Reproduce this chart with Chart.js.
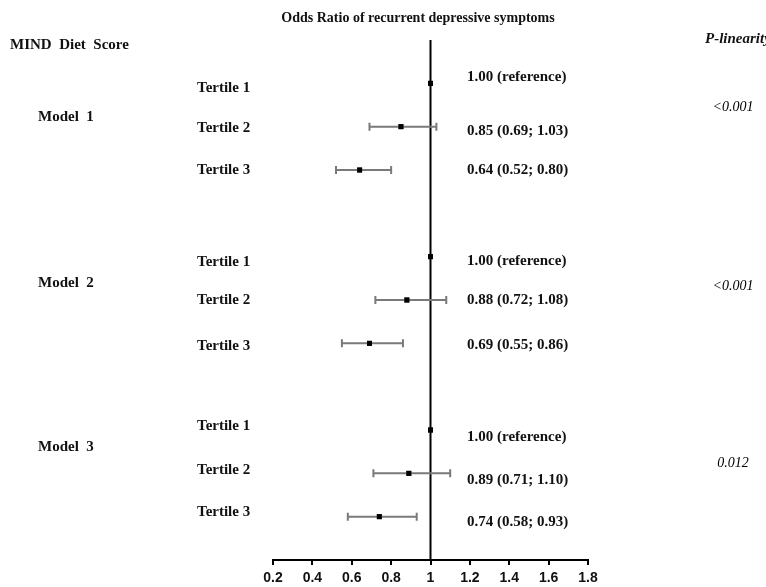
<!DOCTYPE html>
<html>
<head>
<meta charset="utf-8">
<script src="https://cdn.jsdelivr.net/npm/chart.js@4"></script>
<style>
  body { margin: 0; background: #fff; }
  #wrap { width: 766px; height: 587px; }
</style>
</head>
<body>
<div id="wrap"><canvas id="forest" width="766" height="587"></canvas></div>
<script>
// data
const models = ['Model  1', 'Model  2', 'Model  3'];
const pLinearity = ['<0.001', '<0.001', '0.012'];
const tertiles = ['Tertile 1', 'Tertile 2', 'Tertile 3'];
const oddsRatio = [1.00, 0.85, 0.64, 1.00, 0.88, 0.69, 1.00, 0.89, 0.74];
const lowerCI = [1.00, 0.69, 0.52, 1.00, 0.72, 0.55, 1.00, 0.71, 0.58];
const upperCI = [1.00, 1.03, 0.80, 1.00, 1.08, 0.86, 1.00, 1.10, 0.93];
const rowPos = [0, 1, 2, 4, 5, 6, 8, 9, 10];
const valueText = [
    '1.00 (reference)', '0.85 (0.69; 1.03)', '0.64 (0.52; 0.80)',
    '1.00 (reference)', '0.88 (0.72; 1.08)', '0.69 (0.55; 0.86)',
    '1.00 (reference)', '0.89 (0.71; 1.10)', '0.74 (0.58; 0.93)'
];
const xTicks = [0.2, 0.4, 0.6, 0.8, 1, 1.2, 1.4, 1.6, 1.8];

// small nudges so labels sit like in the original (pixels)
const tertileShift = [5, 1, 0, 5, 0, 3, -4, -3, -5];
const valueShift = [-6, 4, 0, 4, 0, 2, 7, 7, 5];
const modelY = [117, 283, 447];
const pY = [107, 286, 463];

const serif = '"Liberation Serif", "Times New Roman", serif';

const points = oddsRatio.map((v, i) => ({ x: v, y: rowPos[i] }));

const errorBars = {
    id: 'errorBars',
    afterDatasetsDraw(chart) {
        const ctx = chart.ctx;
        const xs = chart.scales.x, ys = chart.scales.y;
        ctx.save();
        ctx.strokeStyle = '#7a7a7a';
        ctx.lineWidth = 2;
        oddsRatio.forEach((v, i) => {
            if (lowerCI[i] === upperCI[i]) return;
            const y = ys.getPixelForValue(rowPos[i]);
            const x1 = xs.getPixelForValue(lowerCI[i]);
            const x2 = xs.getPixelForValue(upperCI[i]);
            ctx.beginPath();
            ctx.moveTo(x1, y); ctx.lineTo(x2, y);
            ctx.moveTo(x1, y - 4); ctx.lineTo(x1, y + 4);
            ctx.moveTo(x2, y - 4); ctx.lineTo(x2, y + 4);
            ctx.stroke();
        });
        ctx.restore();
        // markers back on top of the bars
        chart.getDatasetMeta(1).controller.draw();
    }
};

const textLabels = {
    id: 'textLabels',
    afterDraw(chart) {
        const ctx = chart.ctx;
        const ys = chart.scales.y;
        ctx.save();
        ctx.fillStyle = '#111';
        ctx.textBaseline = 'middle';

        ctx.font = 'bold 14px ' + serif;
        ctx.textAlign = 'center';
        ctx.fillText('Odds Ratio of recurrent depressive symptoms', 418, 18);

        ctx.textAlign = 'left';
        ctx.font = 'bold 15px ' + serif;
        ctx.fillText('MIND  Diet  Score', 10, 45);
        models.forEach((m, k) => ctx.fillText(m, 38, modelY[k]));

        rowPos.forEach((r, i) => {
            const y = ys.getPixelForValue(r);
            ctx.fillText(tertiles[i % 3], 197, y + tertileShift[i]);
            ctx.fillText(valueText[i], 467, y + valueShift[i]);
        });

        ctx.font = 'italic bold 15px ' + serif;
        ctx.fillText('P-linearity', 705, 39);
        ctx.textAlign = 'center';
        ctx.fillStyle = '#000';
        ctx.font = 'italic 14px ' + serif;
        pLinearity.forEach((p, k) => ctx.fillText(p, 733, pY[k]));
        ctx.restore();
    }
};

new Chart(document.getElementById('forest'), {
    type: 'scatter',
    data: {
        datasets: [
            {
                type: 'line',
                data: [{ x: 1, y: -1 }, { x: 1, y: 11 }],
                borderColor: '#000',
                borderWidth: 2,
                pointRadius: 0
            },
            {
                data: points,
                backgroundColor: '#000',
                borderColor: '#000',
                pointStyle: 'rect',
                pointRadius: 3.5,
                borderWidth: 0
            }
        ]
    },
    options: {
        responsive: false,
        animation: false,
        layout: { padding: { left: 273, right: 178, top: 40, bottom: -4 } },
        plugins: { legend: { display: false }, tooltip: { enabled: false } },
        scales: {
            x: {
                type: 'linear',
                min: 0.2,
                max: 1.8,
                afterBuildTicks: (axis) => { axis.ticks = xTicks.map(v => ({ value: v })); },
                grid: { display: true, drawOnChartArea: false, drawTicks: true, tickLength: 5, color: '#000', lineWidth: 2 },
                border: { display: true, color: '#000', width: 2 },
                ticks: {
                    color: '#111',
                    padding: 6,
                    maxRotation: 0,
                    font: { family: '"Liberation Sans", Arial, sans-serif', size: 14, weight: 'bold', lineHeight: 1.0 },
                    callback: (v) => String(v)
                }
            },
            y: {
                type: 'linear',
                display: false,
                reverse: true,
                min: -1,
                max: 11
            }
        }
    },
    plugins: [errorBars, textLabels]
});
</script>
</body>
</html>
